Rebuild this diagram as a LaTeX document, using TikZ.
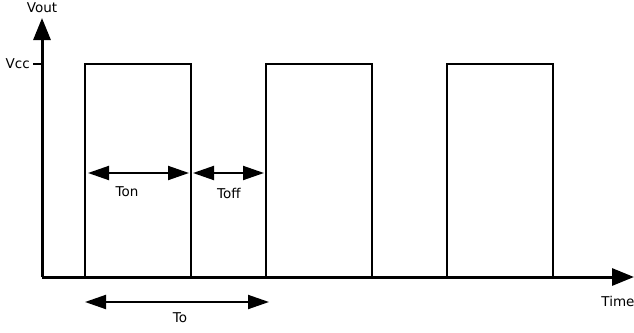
\documentclass[tikz,border=0pt]{standalone}
\usepackage{fontspec}
\setmainfont{DejaVu Sans}
\usetikzlibrary{arrows.meta}
\begin{document}
\begin{tikzpicture}[x=1pt,y=-1pt,
  axis/.style={line width=3pt,-{Triangle[length=22pt,width=17pt]}},
  pulse/.style={line width=2pt},
  dimarrow/.style={line width=2pt,{Triangle[length=21pt,width=14pt]}-{Triangle[length=21pt,width=14pt]}},
  lbl/.style={font=\fontsize{13.5}{15}\selectfont,inner sep=0pt}]
  \useasboundingbox (0,0) rectangle (634,332);
  % axes
  \coordinate (origin) at (42,277);
  \coordinate (ytip) at (42,18);
  \coordinate (xtip) at (634,277);
  \draw[axis] (origin) -- (ytip);
  \draw[axis] (origin) -- (xtip);
  % Vcc tick
  \coordinate (vcctick) at (42,64);
  \draw[line width=2pt] (vcctick) -- ++(-9,0) coordinate (vccend);
  \node[lbl,anchor=east] (vcc) at ([xshift=-3pt]vccend) {Vcc};
  \node[lbl] (vout) at (42,8) {Vout};
  \node[lbl] (time) at (618,301) {Time};
  % pulses
  \foreach \r/\f in {85/191,266/372,447/553}
    \draw[pulse] (\r,277) -- (\r,64) -- (\f,64) -- (\f,277);
  % durations
  \coordinate (ona) at (88,173);
  \coordinate (onb) at (189,173);
  \coordinate (offa) at (193,173);
  \coordinate (offb) at (264,173);
  \coordinate (toa) at (85,302);
  \coordinate (tob) at (269,302);
  \draw[dimarrow] (ona) -- (onb);
  \draw[dimarrow] (offa) -- (offb);
  \draw[dimarrow] (toa) -- (tob);
  \node[lbl] (ton) at (127,192) {Ton};
  \node[lbl] (toff) at (229,193) {Toff};
  \node[lbl] (to) at (180,318) {To};
\end{tikzpicture}
\end{document}
